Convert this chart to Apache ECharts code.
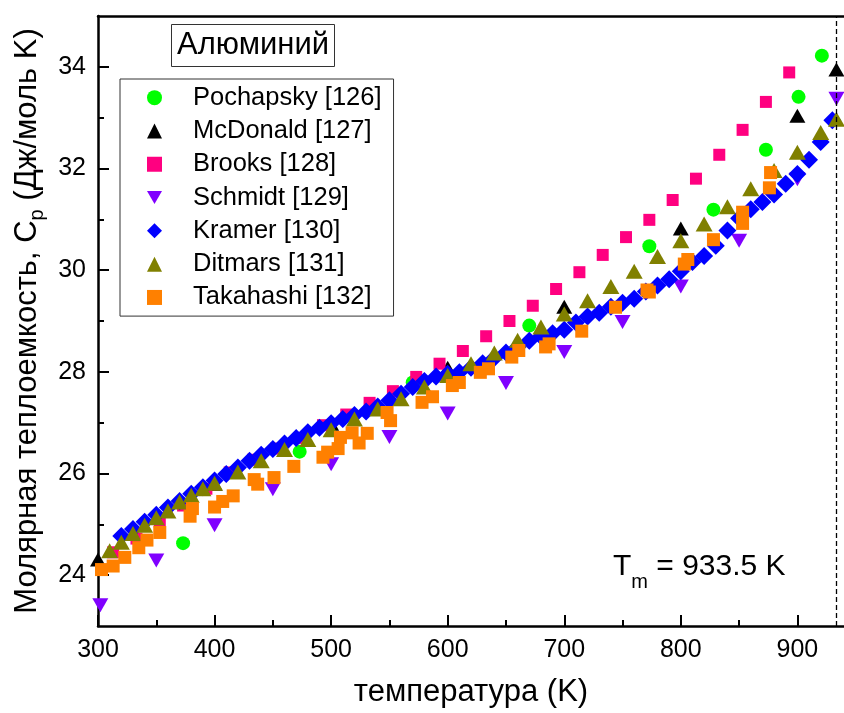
<!DOCTYPE html>
<html>
<head>
<meta charset="utf-8">
<script src="https://cdn.jsdelivr.net/npm/echarts@6/dist/echarts.min.js"></script>
<style>
  html, body { margin: 0; padding: 0; background: #fff; }
  #chart { width: 844px; height: 713px; }
</style>
</head>
<body>
<div id="chart"></div>
<script>
// Heat capacity of aluminium vs temperature, several literature sources.
const xMajorTicks = [300, 400, 500, 600, 700, 800, 900];
const xMinorTicks = [350, 450, 550, 650, 750, 850];
const yMajorTicks = [24, 26, 28, 30, 32, 34];
const yMinorTicks = [25, 27, 29, 31, 33];
const meltingPoint = 933.5;

// [T (K), Cp (J/mol K)]
const pochapsky = [[373, 24.63], [473, 26.43], [570, 27.79], [670, 28.91], [773, 30.47],
  [828, 31.19], [873, 32.37], [901, 33.41], [921, 34.22]];

const mcdonald = [[300, 24.31], [400, 25.80], [500, 26.98], [600, 28.08], [700, 29.28],
  [800, 30.82], [900, 33.04], [933.5, 33.95]];

const brooks = [[313, 24.45], [333, 24.72], [353, 25.05], [373, 25.37], [393, 25.70],
  [413, 26.02], [433, 26.27], [453, 26.49], [473, 26.70], [493, 26.95], [513, 27.16],
  [533, 27.39], [553, 27.62], [573, 27.90], [593, 28.16], [613, 28.41], [633, 28.70],
  [653, 29.00], [673, 29.30], [693, 29.63], [713, 29.96], [733, 30.30], [753, 30.65],
  [773, 30.99], [793, 31.38], [813, 31.80], [833, 32.27], [853, 32.76], [873, 33.31],
  [893, 33.89]];

const schmidt = [[302, 23.41], [350, 24.29], [400, 24.98], [450, 25.69], [500, 26.18],
  [550, 26.72], [600, 27.18], [650, 27.78], [700, 28.39], [750, 28.98], [800, 29.68],
  [850, 30.58], [900, 31.79], [933.5, 33.37]];

const kramer = [[320, 24.77], [330, 24.91], [340, 25.05], [350, 25.19], [360, 25.33],
  [370, 25.46], [380, 25.60], [390, 25.73], [400, 25.86], [410, 25.99], [420, 26.12],
  [430, 26.25], [440, 26.37], [450, 26.48], [460, 26.59], [470, 26.70], [480, 26.81],
  [490, 26.90], [500, 26.99], [510, 27.07], [520, 27.15], [530, 27.22], [540, 27.32],
  [550, 27.44], [560, 27.57], [570, 27.70], [580, 27.82], [590, 27.91], [600, 27.96],
  [610, 27.99], [620, 28.08], [630, 28.17], [640, 28.27], [650, 28.38], [660, 28.49],
  [670, 28.61], [680, 28.70], [690, 28.76], [700, 28.83], [710, 28.97], [720, 29.09],
  [730, 29.16], [740, 29.28], [750, 29.36], [760, 29.44], [770, 29.58], [780, 29.70],
  [790, 29.82], [800, 29.98], [810, 30.16], [820, 30.28], [830, 30.48], [840, 30.78],
  [850, 31.02], [860, 31.20], [870, 31.34], [880, 31.49], [890, 31.70], [900, 31.89],
  [910, 32.17], [920, 32.52], [930, 32.95]];

const ditmars = [[310, 24.48], [320, 24.65], [330, 24.82], [340, 24.98], [350, 25.13],
  [360, 25.26], [370, 25.44], [380, 25.57], [390, 25.70], [400, 25.81], [420, 26.03],
  [440, 26.25], [460, 26.47], [480, 26.67], [500, 26.86], [520, 27.07], [540, 27.27],
  [560, 27.47], [580, 27.70], [600, 27.93], [620, 28.16], [640, 28.37], [660, 28.62],
  [680, 28.88], [700, 29.14], [720, 29.40], [740, 29.68], [760, 29.98], [780, 30.27],
  [800, 30.58], [820, 30.91], [840, 31.25], [860, 31.60], [880, 31.96], [900, 32.32],
  [920, 32.71], [933.5, 32.97]];

const takahashi = [[303, 24.11], [313, 24.18], [323, 24.35], [335, 24.54], [342, 24.69],
  [353, 24.84], [379, 25.16], [381, 25.31], [400, 25.34], [407, 25.45], [416, 25.56],
  [434, 25.88], [437, 25.79], [451, 25.92], [468, 26.14], [493, 26.32], [497, 26.42],
  [506, 26.49], [508, 26.71], [518, 26.80], [524, 26.60], [531, 26.79], [548, 27.20],
  [551, 27.04], [578, 27.40], [587, 27.51], [604, 27.73], [610, 27.79], [628, 27.99],
  [635, 28.06], [655, 28.29], [661, 28.42], [684, 28.49], [687, 28.55], [715, 28.80],
  [744, 29.27], [771, 29.61], [773, 29.57], [803, 30.12], [806, 30.21], [828, 30.60],
  [853, 30.92], [853, 31.14], [876, 31.62], [877, 31.92]];

const FONT = '"Liberation Sans", Arial, Helvetica, sans-serif';
const DOWN_TRIANGLE = 'path://M0,0L16,0L8,14Z';

const chart = echarts.init(document.getElementById('chart'), null, { renderer: 'canvas' });

function scatter(name, data, symbol, size, color, extra) {
  return Object.assign({
    name: name,
    type: 'scatter',
    data: data,
    symbol: symbol,
    symbolSize: size,
    itemStyle: { color: color, opacity: 1 },
    emphasis: { disabled: true },
    animation: false,
    clip: true
  }, extra || {});
}

const option = {
  backgroundColor: '#fff',
  animation: false,
  textStyle: { fontFamily: FONT },
  title: {
    text: 'Алюминий',
    left: 171,
    top: 24,
    padding: [3, 6, 3, 6],
    borderColor: '#333',
    borderWidth: 1,
    textStyle: { fontFamily: FONT, fontSize: 31, fontWeight: 'normal', color: '#000', lineHeight: 37 }
  },
  legend: {
    orient: 'vertical',
    left: 120,
    top: 79,
    padding: [2, 12, 2, 27],
    itemWidth: 15,
    itemHeight: 15,
    itemGap: 0,
    selectedMode: false,
    borderColor: '#333',
    borderWidth: 1,
    textStyle: { fontFamily: FONT, fontSize: 25.5, color: '#000', lineHeight: 33.3, padding: [0, 0, 0, 26] },
    data: [
      'Pochapsky [126]', 'McDonald [127]', 'Brooks [128]',
      { name: 'Schmidt [129]', icon: DOWN_TRIANGLE },
      'Kramer [130]', 'Ditmars [131]', 'Takahashi [132]'
    ]
  },
  grid: { left: 98, right: 0, top: 16, bottom: 87, containLabel: false, outerBoundsMode: 'none' },
  xAxis: [
    {
      type: 'value', min: 300, max: 940, position: 'bottom',
      axisLine: { lineStyle: { color: '#000', width: 2.5 } },
      axisTick: { inside: true, length: 11, customValues: xMajorTicks, lineStyle: { color: '#000', width: 2 } },
      axisLabel: { customValues: xMajorTicks, fontFamily: FONT, fontSize: 25, color: '#000', margin: 12 },
      splitLine: { show: false },
      name: 'температура (K)',
      nameLocation: 'middle',
      nameGap: 51,
      nameTextStyle: { fontFamily: FONT, fontSize: 31, color: '#000' }
    },
    {
      type: 'value', min: 300, max: 940, position: 'bottom',
      axisLine: { show: false },
      axisTick: { inside: true, length: 6, customValues: xMinorTicks, lineStyle: { color: '#000', width: 2 } },
      axisLabel: { show: false },
      splitLine: { show: false }
    },
    {
      type: 'value', min: 300, max: 940, position: 'top',
      axisLine: { lineStyle: { color: '#000', width: 2.5 } },
      axisTick: { show: false },
      axisLabel: { show: false },
      splitLine: { show: false }
    }
  ],
  yAxis: [
    {
      type: 'value', min: 23, max: 35, position: 'left',
      axisLine: { show: true, lineStyle: { color: '#000', width: 2.5 } },
      axisTick: { show: true, inside: true, length: 11, customValues: yMajorTicks, lineStyle: { color: '#000', width: 2 } },
      axisLabel: { customValues: yMajorTicks, fontFamily: FONT, fontSize: 25, color: '#000', margin: 12 },
      splitLine: { show: false },
      name: 'Молярная теплоемкость, C{sub|p} (Дж/моль K)',
      nameLocation: 'middle',
      nameGap: 50,
      nameRotate: 90,
      nameTextStyle: {
        fontFamily: FONT, fontSize: 31, color: '#000', lineHeight: 36,
        rich: {
          sub: { fontFamily: FONT, fontSize: 20, color: '#000', lineHeight: 20, verticalAlign: 'top', padding: [18, 0, 0, 0] }
        }
      }
    },
    {
      type: 'value', min: 23, max: 35, position: 'left',
      axisLine: { show: false },
      axisTick: { show: true, inside: true, length: 6, customValues: yMinorTicks, lineStyle: { color: '#000', width: 2 } },
      axisLabel: { show: false },
      splitLine: { show: false }
    }
  ],
  graphic: [
    {
      type: 'text',
      left: 613,
      top: 550,
      style: {
        text: 'T{sub|m} = 933.5 K',
        fontFamily: FONT,
        fontSize: 30,
        fill: '#000',
        lineHeight: 34,
        rich: {
          sub: { fontFamily: FONT, fontSize: 20, fill: '#000', lineHeight: 20, verticalAlign: 'bottom', padding: [0, 0, -8, 0] }
        }
      }
    }
  ],
  series: [
    scatter('Pochapsky [126]', pochapsky, 'circle', 14, '#00FF00', {
      markLine: {
        silent: true,
        symbol: 'none',
        label: { show: false },
        lineStyle: { color: '#000', width: 1.3, type: [5, 3] },
        data: [{ xAxis: meltingPoint }]
      }
    }),
    scatter('McDonald [127]', mcdonald, 'triangle', [16, 14], '#000000'),
    scatter('Brooks [128]', brooks, 'rect', 12, '#FF0080'),
    scatter('Schmidt [129]', schmidt, DOWN_TRIANGLE, [16, 14], '#8000FF'),
    scatter('Kramer [130]', kramer, 'diamond', [18, 18], '#0000FF'),
    scatter('Ditmars [131]', ditmars, 'triangle', [17, 15], '#808000'),
    scatter('Takahashi [132]', takahashi, 'rect', 13, '#FF8000')
  ]
};

chart.setOption(option);
</script>
</body>
</html>
